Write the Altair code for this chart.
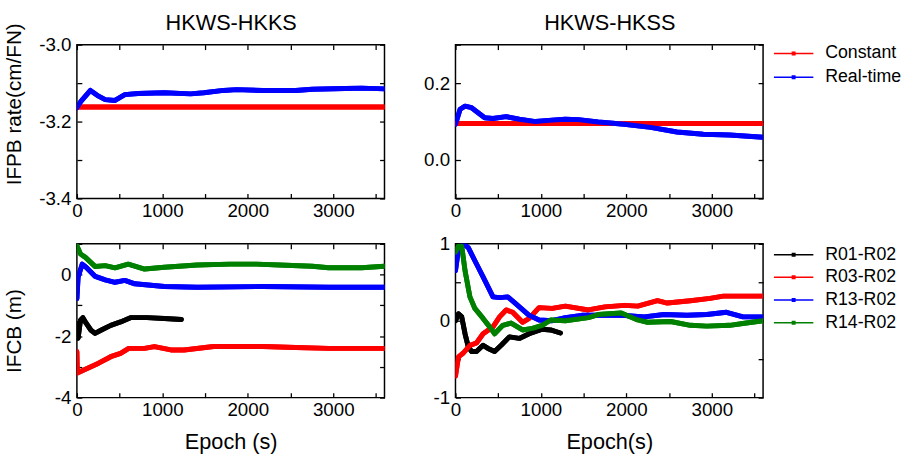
import altair as alt
import pandas as pd

FONT = "Liberation Sans"
W, H = 312, 156

# ---------------- data ----------------
# Top-left: HKWS-HKKS IFPB rate
TL_CONST_EPOCH = [0, 3600]
TL_CONST = [-3.162, -3.162]
TL_RT_EPOCH = [0, 42, 158, 254, 331, 446, 561, 715, 1023, 1331, 1485, 1715, 1869, 2177, 2561, 2754, 3138, 3331, 3600]
TL_RT = [-3.164, -3.149, -3.119, -3.134, -3.143, -3.145, -3.130, -3.127, -3.125, -3.128, -3.125, -3.119, -3.117,
         -3.119, -3.119, -3.116, -3.114, -3.113, -3.115]

# Top-right: HKWS-HKSS IFPB rate
TR_CONST_EPOCH = [0, 3600]
TR_CONST = [0.095, 0.095]
TR_RT_EPOCH = [0, 54, 112, 188, 265, 342, 438, 592, 746, 938, 1092, 1285, 1438, 1669, 1977, 2285, 2592, 2900, 3208, 3600]
TR_RT = [0.093, 0.132, 0.140, 0.136, 0.123, 0.110, 0.108, 0.113, 0.106, 0.100, 0.103, 0.106, 0.105, 0.099, 0.093,
         0.085, 0.073, 0.067, 0.065, 0.059]

# Bottom-left: HKWS-HKKS IFCB
BL_R01_EPOCH = [0, 14, 42, 70, 108, 165, 212, 281, 396, 511, 627, 819, 1023, 1223]
BL_R01 = [-1.59, -2.07, -1.48, -1.40, -1.58, -1.81, -1.91, -1.81, -1.65, -1.54, -1.40, -1.40, -1.43, -1.46]
BL_R03_EPOCH = [0, 5, 100, 254, 396, 511, 607, 792, 907, 1100, 1255, 1600, 2177, 2561, 2946, 3600]
BL_R03 = [-2.51, -3.20, -3.08, -2.88, -2.67, -2.56, -2.40, -2.40, -2.34, -2.45, -2.45, -2.34, -2.34, -2.37, -2.40, -2.40]
BL_R13_EPOCH = [0, 14, 62, 108, 215, 331, 446, 561, 677, 1023, 1408, 2177, 2946, 3600]
BL_R13 = [-0.78, -0.09, 0.34, 0.24, -0.06, -0.17, -0.25, -0.19, -0.30, -0.39, -0.41, -0.39, -0.41, -0.41]
BL_R14_EPOCH = [0, 42, 100, 215, 331, 446, 600, 792, 1023, 1408, 1792, 2100, 2369, 2754, 2946, 3331, 3600]
BL_R14 = [0.94, 0.67, 0.56, 0.26, 0.29, 0.22, 0.34, 0.18, 0.24, 0.31, 0.34, 0.34, 0.31, 0.27, 0.22, 0.22, 0.27]

# Bottom-right: HKWS-HKSS IFCB
BR_R01_EPOCH = [0, 35, 73, 112, 150, 189, 246, 323, 381, 458, 535, 631, 747, 862, 1016, 1113, 1228]
BR_R01 = [0.00, 0.09, 0.05, -0.17, -0.34, -0.40, -0.40, -0.32, -0.36, -0.40, -0.32, -0.21, -0.23, -0.17, -0.11,
          -0.12, -0.16]
BR_R03_EPOCH = [0, 35, 92, 169, 246, 323, 439, 516, 593, 670, 785, 862, 978, 1132, 1286, 1555, 1748, 1979, 2133,
                2364, 2479, 2749, 2980, 3134, 3600]
BR_R03 = [-0.72, -0.47, -0.42, -0.32, -0.29, -0.17, -0.08, 0.05, 0.14, 0.11, -0.02, 0.03, 0.17, 0.16, 0.19, 0.14,
          0.18, 0.20, 0.19, 0.26, 0.23, 0.26, 0.29, 0.32, 0.32]
BR_R13_EPOCH = [0, 35, 92, 150, 227, 323, 439, 516, 612, 708, 862, 978, 1132, 1286, 1478, 1748, 1940, 2210, 2441,
                2710, 2941, 3172, 3365, 3600]
BR_R13 = [0.65, 0.93, 1.00, 0.95, 0.78, 0.57, 0.31, 0.30, 0.31, 0.22, 0.07, 0.01, 0.00, 0.04, 0.07, 0.07, 0.07,
          0.05, 0.08, 0.07, 0.08, 0.11, 0.05, 0.05]
BR_R14_EPOCH = [0, 35, 73, 112, 169, 227, 323, 400, 458, 554, 651, 785, 901, 1016, 1113, 1286, 1555, 1671, 1940,
                2133, 2248, 2518, 2749, 2941, 3210, 3403, 3600]
BR_R14 = [0.89, 0.97, 0.97, 0.65, 0.31, 0.16, 0.03, -0.08, -0.17, -0.06, -0.03, -0.12, -0.10, -0.06, 0.01, 0.00,
          0.04, 0.08, 0.10, 0.01, -0.02, -0.01, -0.06, -0.07, -0.06, -0.03, 0.00]

TOP_NAMES = ["Constant", "Real-time"]
TOP_COLORS = ["#FF0000", "#0000FF"]
BOT_NAMES = ["R01-R02", "R03-R02", "R13-R02", "R14-R02"]
BOT_COLORS = ["#000000", "#FF0000", "#0000FF", "#008000"]

X_TICKS = [0, 500, 1000, 1500, 2000, 2500, 3000, 3500]


def frame(name, epochs, values):
    return pd.DataFrame({"epoch": epochs, "value": values, "series": name})


MINUS = "\u2212"
SYMBOL = "M-1,0H7M2.75,-0.25H3.25V0.25H2.75Z"
# inward ticks: axis shifted 5px into the plot, ticks 5px long
TK = dict(ticks=True, tickSize=5, offset=-5, tickColor="#000000", tickWidth=1.3, tickOpacity=1)


def make_panel(df, names, colors, ydom, yvals, ylabexpr, ytitle=None, ytitleY=None,
               xtitle=None, legend=None, title=None):
    xscale = alt.Scale(domain=[0, 3600], nice=False, zero=False)
    yscale = alt.Scale(domain=ydom, nice=False, zero=False)
    color = alt.Color("series:N", scale=alt.Scale(domain=names, range=colors), legend=legend, sort=names)

    xlab = "datum.value % 1000 == 0 ? format(datum.value, 'd') : ''"
    xaxis_kw = dict(values=X_TICKS, labelExpr=xlab, labelPadding=3,
                    labelFlush=False, labelOverlap=False, **TK)
    if xtitle:
        xaxis = alt.Axis(title=xtitle, titleBaseline="alphabetic", titleY=57, titleX=W / 2,
                         titleAlign="center", **xaxis_kw)
    else:
        xaxis = alt.Axis(title=None, **xaxis_kw)
    yaxis_kw = dict(values=yvals, labelExpr=ylabexpr, labelPadding=6,
                    labelFlush=False, labelOverlap=False, **TK)
    if ytitle:
        yaxis = alt.Axis(title=ytitle, titleBaseline="alphabetic", titleX=-62, titleY=ytitleY,
                         titleAngle=-90, titleAlign="center", titleFontSize=21, **yaxis_kw)
    else:
        yaxis = alt.Axis(title=None, **yaxis_kw)

    if title:
        top_axis = alt.Axis(orient="top", values=X_TICKS, labels=False, title=title, titleFontSize=22,
                            titleBaseline="alphabetic", titleX=W / 2, titleY=-20, titleAlign="center", **TK)
    else:
        top_axis = alt.Axis(orient="top", values=X_TICKS, labels=False, title=None, **TK)

    line = dict(strokeWidth=5, clip=True, strokeJoin="round", strokeCap="round")
    base = alt.Chart(df).mark_line(**line).encode(
        x=alt.X("epoch:Q", scale=xscale, axis=xaxis),
        y=alt.Y("value:Q", scale=yscale, axis=yaxis),
        color=color,
    )
    mirror = alt.Chart(df).mark_line(**line).encode(
        x=alt.X("epoch:Q", scale=xscale, axis=top_axis),
        y=alt.Y("value:Q", scale=yscale,
                axis=alt.Axis(orient="right", values=yvals, labels=False, title=None, **TK)),
        color=color,
    )
    ch = alt.layer(base, mirror).resolve_axis(x="independent", y="independent")
    return ch.properties(width=W, height=H)


def legend(row_pad, pad, off):
    return alt.Legend(title=None, orient="right", offset=off, padding=pad, symbolType=SYMBOL,
                      symbolSize=100, symbolStrokeWidth=1.5, labelOffset=38, labelFontSize=18,
                      labelFont=FONT, labelColor="black", rowPadding=row_pad)


top_df_l = pd.concat([frame("Constant", TL_CONST_EPOCH, TL_CONST), frame("Real-time", TL_RT_EPOCH, TL_RT)])
top_df_r = pd.concat([frame("Constant", TR_CONST_EPOCH, TR_CONST), frame("Real-time", TR_RT_EPOCH, TR_RT)])
bot_df_l = pd.concat([frame("R01-R02", BL_R01_EPOCH, BL_R01), frame("R03-R02", BL_R03_EPOCH, BL_R03),
                      frame("R13-R02", BL_R13_EPOCH, BL_R13), frame("R14-R02", BL_R14_EPOCH, BL_R14)])
bot_df_r = pd.concat([frame("R01-R02", BR_R01_EPOCH, BR_R01), frame("R03-R02", BR_R03_EPOCH, BR_R03),
                      frame("R13-R02", BR_R13_EPOCH, BR_R13), frame("R14-R02", BR_R14_EPOCH, BR_R14)])

lab_tl = f"abs(round(datum.value*10)) % 2 == 0 ? replace(format(datum.value, '.1f'), '{MINUS}', '-') : ''"
lab_tr = "(round(datum.value*10) == 0 || round(datum.value*10) == 2) ? format(datum.value, '.1f') : ''"
lab_bl = f"datum.value % 2 == 0 ? replace(format(datum.value, 'd'), '{MINUS}', '-') : ''"
lab_br = f"datum.value % 1 == 0 ? replace(format(datum.value, 'd'), '{MINUS}', '-') : ''"

tl = make_panel(top_df_l, TOP_NAMES, TOP_COLORS, [-3.4, -3.0], [-3.4, -3.3, -3.2, -3.1, -3.0], lab_tl,
                ytitle="IFPB rate(cm/FN)", ytitleY=60, title="HKWS-HKKS")
tr = make_panel(top_df_r, TOP_NAMES, TOP_COLORS, [-0.1, 0.3], [-0.1, 0.0, 0.1, 0.2, 0.3], lab_tr,
                legend=legend(6, 0, 6), title="HKWS-HKSS")
bl = make_panel(bot_df_l, BOT_NAMES, BOT_COLORS, [-4, 1], [-4, -3, -2, -1, 0, 1], lab_bl,
                ytitle="IFCB (m)", ytitleY=88, xtitle="Epoch (s)")
br = make_panel(bot_df_r, BOT_NAMES, BOT_COLORS, [-1, 1], [-1, -0.5, 0, 0.5, 1], lab_br,
                xtitle="Epoch(s)", legend=legend(5, 2, 4))

chart = alt.concat(tl, tr, bl, br, columns=2, spacing={"row": 46, "column": 72}, bounds="flush").resolve_scale(
    color="independent"
).configure(
    font=FONT, padding={"left": 3, "top": 8, "right": 5, "bottom": 5}, background="white"
).configure_view(
    stroke="black", strokeWidth=1.5
).configure_axis(
    labelFont=FONT, labelFontSize=19, labelColor="black", titleFont=FONT, titleFontSize=22,
    titleFontWeight="normal", titleColor="black", domain=False, grid=False
)

chart.save("out.html", embed_options={"renderer": "svg", "actions": False})
